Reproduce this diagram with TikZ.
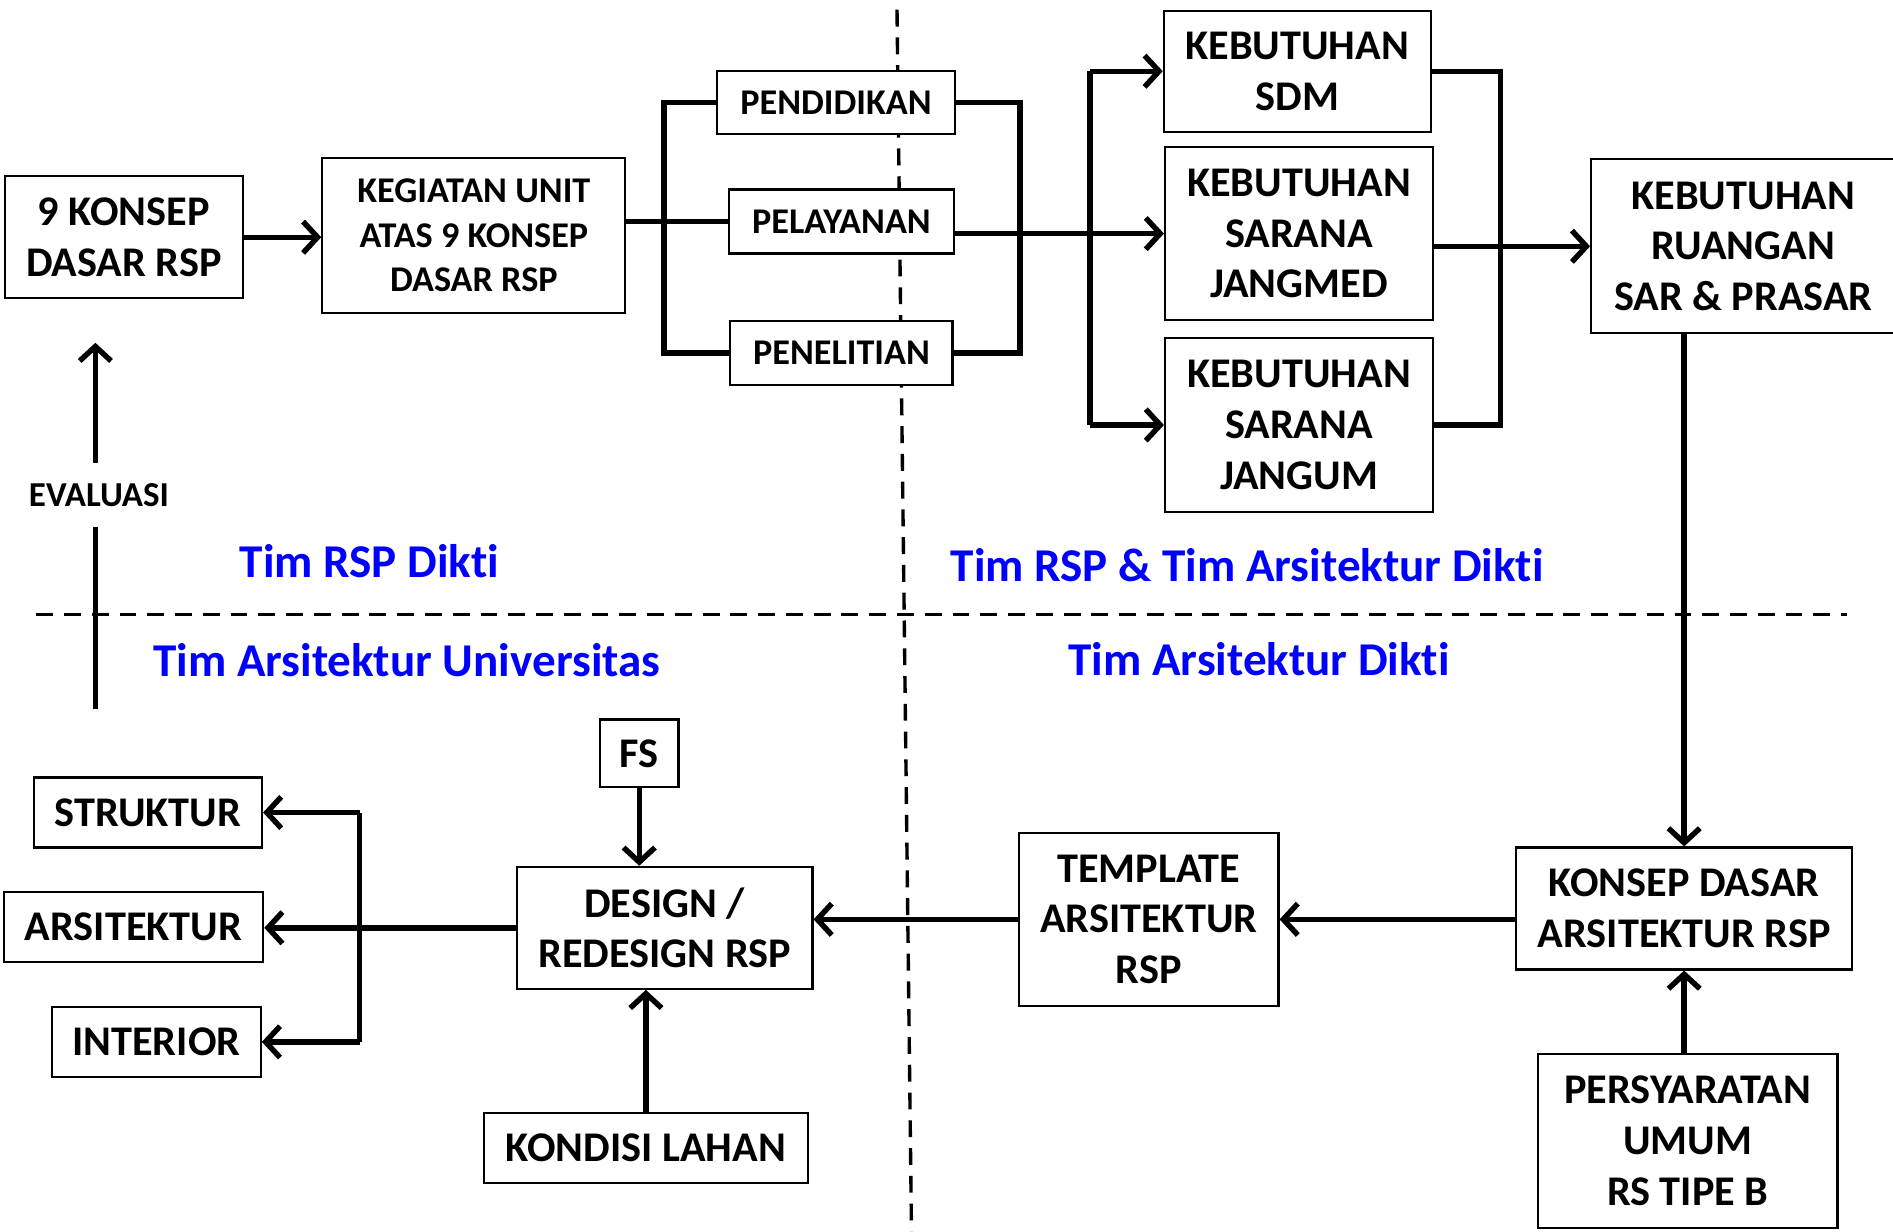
\documentclass[tikz,border=0pt]{standalone}
\usepackage{fontspec}
\setmainfont{Carlito}[Ligatures={NoCommon,NoContextual}]
\usetikzlibrary{arrows.meta}
\begin{document}
\begin{tikzpicture}[x=1pt,y=-1pt,
  box/.style={draw, fill=white, line width=1.8pt, inner sep=0pt, align=center,
    font=\bfseries\fontsize{35}{42}\selectfont},
  sbox/.style={box, font=\bfseries\fontsize{30}{37}\selectfont},
  conn/.style={line width=4.5pt},
  arr/.style={conn, -{Straight Barb[length=12pt,width=26pt]}},
  team/.style={text=blue, inner sep=0pt, font=\bfseries\fontsize{39}{46}\selectfont},
  div/.style={line width=2.8pt, dash pattern=on 14pt off 9pt}]
\useasboundingbox (0,0) rectangle (1568,1020);
\begin{scope}
\clip (0,0) rectangle (1568,1020);
% dividers
\draw[div] (30,509) -- (1530,509);
\draw[div] (743,8) -- (755,1020);
% boxes
\node[box, minimum width=197pt, minimum height=101pt] (A) at (102.5,196.5) {9 KONSEP\\DASAR RSP};
\node[sbox, minimum width=251pt, minimum height=128pt] (B) at (392.5,195) {KEGIATAN UNIT\\ATAS 9 KONSEP\\DASAR RSP};
\node[sbox, minimum width=197pt, minimum height=52pt] (PEN) at (692.5,85) {PENDIDIKAN};
\node[sbox, minimum width=186pt, minimum height=53pt] (PEL) at (697,183.5) {PELAYANAN};
\node[sbox, minimum width=184pt, minimum height=53pt] (PNL) at (697,292.5) {PENELITIAN};
\node[box, minimum width=221pt, minimum height=100pt] (SDM) at (1074.5,59) {KEBUTUHAN\\SDM};
\node[box, minimum width=222pt, minimum height=143pt] (JMED) at (1076,193.5) {KEBUTUHAN\\SARANA\\JANGMED};
\node[box, minimum width=222pt, minimum height=144pt] (JUM) at (1076,352) {KEBUTUHAN\\SARANA\\JANGUM};
\node[box, minimum width=252pt, minimum height=144pt] (RUANG) at (1444,204) {KEBUTUHAN\\RUANGAN\\SAR \& PRASAR};
\node[box, minimum width=278pt, minimum height=101pt] (KD) at (1395,752.5) {KONSEP DASAR\\ARSITEKTUR RSP};
\node[box, minimum width=248pt, minimum height=144pt] (PERS) at (1398,945) {PERSYARATAN\\UMUM\\RS TIPE B};
\node[box, minimum width=215pt, minimum height=143pt] (TPL) at (951.5,761.5) {TEMPLATE\\ARSITEKTUR\\RSP};
\node[box, minimum width=245pt, minimum height=101pt] (DES) at (550.5,768.5) {DESIGN /\\REDESIGN RSP};
\node[box, minimum width=65pt, minimum height=56pt] (FS) at (529.5,624) {FS};
\node[box, minimum width=268pt, minimum height=58pt] (KL) at (535,951) {KONDISI LAHAN};
\node[box, minimum width=189pt, minimum height=58pt] (STR) at (122.5,673) {STRUKTUR};
\node[box, minimum width=215pt, minimum height=58pt] (ARS) at (110.5,768) {ARSITEKTUR};
\node[box, minimum width=173pt, minimum height=58pt] (INT) at (129.5,863) {INTERIOR};
% team labels
\node[team] (t1) at (306,465) {Tim RSP Dikti};
\node[team] (t2) at (1033,468) {Tim RSP \& Tim Arsitektur Dikti};
\node[team] (t3) at (337,547) {Tim Arsitektur Universitas};
\node[team] (t4) at (1043,546) {Tim Arsitektur Dikti};
% evaluasi
\node[inner xsep=0pt, inner ysep=17pt, font=\bfseries\fontsize{29}{35}\selectfont] (EV) at (82,410) {EVALUASI};
\coordinate (evb) at (79,587);
\draw[conn] (evb) -- (evb |- EV.south);
\draw[arr, shorten >=36pt] (evb |- EV.north) -- (A.south -| evb);
% top flow
\draw[arr] (A.east) -- (A.east -| B.west);
\draw[conn] (B.east |- PEL.west) -- (PEL.west);
\coordinate (lb) at (550,0);
\draw[conn] (PEN.west) -- (PEN.west -| lb) -- (PNL.west -| lb) -- (PNL.west);
\coordinate (rb) at (845,0);
\draw[conn] (PEN.east) -- (PEN.east -| rb) -- (PNL.east -| rb) -- (PNL.east);
\draw[arr] (PEL.east |- JMED.west) -- (JMED.west);
\coordinate (lb2) at (903,0);
\draw[conn] (SDM.west -| lb2) -- (JUM.west -| lb2);
\draw[arr] (SDM.west -| lb2) -- (SDM.west);
\draw[arr] (JUM.west -| lb2) -- (JUM.west);
\coordinate (rb2) at (1243,0);
\draw[conn] (SDM.east) -- (SDM.east -| rb2) -- (JUM.east -| rb2) -- (JUM.east);
\draw[arr] (JMED.east |- RUANG.west) -- (RUANG.west);
% right column
\draw[arr] (RUANG.south -| KD.north) -- (KD.north);
\draw[arr] (PERS.north -| KD.south) -- (KD.south);
\draw[arr] (KD.west |- TPL.east) -- (TPL.east);
\draw[arr] (TPL.west) -- (TPL.west -| DES.east);
\draw[arr] (FS.south) -- (FS.south |- DES.north);
\draw[arr] (KL.north) -- (KL.north |- DES.south);
% outputs
\draw[arr] (DES.west) -- (DES.west -| ARS.east);
\coordinate (ob) at (298,0);
\draw[conn] (STR.east -| ob) -- (INT.east -| ob);
\draw[arr] (STR.east -| ob) -- (STR.east);
\draw[arr] (INT.east -| ob) -- (INT.east);
\end{scope}
\end{tikzpicture}
\end{document}
